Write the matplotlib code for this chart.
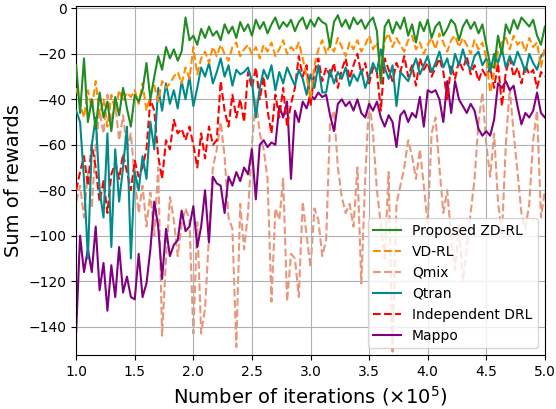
import numpy as np
import matplotlib
matplotlib.use("Agg")
import matplotlib.pyplot as plt

x_start, x_end, n_points = 1.0, 5.0, 121
iterations = np.linspace(x_start, x_end, n_points)

zd_rl = [-25, -46, -22, -50, -40, -53, -37, -48, -41, -54, -39, -47, -35, -44, -52, -38, -41, -36, -24, -40,
         -30, -21, -27, -17, -22, -18, -23, -19, -4, -14, -12, -16, -9, -13, -8, -12, -10, -14, -7, -11,
         -8, -13, -6, -10, -7, -12, -5, -9, -6, -11, -7, -4, -9, -6, -8, -5, -10, -6, -4, -9,
         -5, -8, -4, -6, -7, -17, -6, -3, -8, -5, -9, -4, -7, -5, -9, -6, -4, -10, -33, -8,
         -5, -11, -6, -9, -4, -12, -7, -15, -6, -10, -5, -13, -8, -6, -12, -9, -5, -7, -14, -8,
         -5, -9, -6, -11, -7, -16, -25, -26, -12, -20, -7, -11, -5, -9, -4, -6, -8, -5, -12, -16, -8]

vd_rl = [-35, -42, -48, -36, -44, -32, -47, -40, -52, -38, -45, -36, -41, -37, -39, -36, -42, -33, -45, -38,
         -34, -41, -32, -35, -33, -30, -28, -33, -26, -31, -17, -29, -22, -19, -24, -17, -21, -16, -20, -23,
         -17, -15, -21, -18, -16, -20, -17, -22, -16, -19, -15, -21, -18, -14, -20, -17, -19, -15, -22, -30,
         -40, -25, -18, -14, -20, -16, -19, -13, -17, -21, -15, -18, -14, -19, -16, -12, -18, -15, -27, -14,
         -11, -17, -13, -16, -19, -14, -12, -18, -15, -20, -16, -13, -18, -11, -15, -19, -14, -12, -17, -13,
         -16, -20, -14, -18, -15, -22, -37, -28, -19, -15, -13, -18, -12, -16, -14, -19, -13, -17, -15, -26, -17]

qmix = [-85, -78, -92, -72, -88, -60, -45, -55, -38, -50, -42, -58, -47, -62, -55, -75, -90, -78, -96, -81,
        -100, -70, -144, -110, -83, -93, -109, -95, -88, -93, -143, -94, -143, -132, -100, -70, -62, -50, -65, -92,
        -97, -149, -86, -106, -90, -60, -40, -55, -62, -75, -129, -88, -93, -75, -129, -108, -110, -127, -85, -100,
        -114, -88, -93, -109, -102, -50, -45, -70, -83, -90, -86, -96, -70, -121, -75, -40, -55, -80, -95, -110,
        -72, -151, -86, -78, -70, -58, -65, -75, -62, -78, -95, -55, -48, -70, -90, -80, -100, -115, -95, -120,
        -105, -90, -75, -50, -37, -60, -74, -55, -85, -100, -60, -35, -55, -72, -90, -97, -86, -58, -45, -92, -80]

qtran = [-45, -50, -75, -110, -60, -48, -80, -92, -55, -105, -62, -85, -70, -52, -110, -72, -80, -65, -75, -50,
         -62, -35, -45, -33, -42, -36, -44, -32, -40, -30, -43, -35, -26, -30, -24, -33, -28, -22, -30, -25,
         -34, -27, -29, -28, -26, -32, -48, -35, -27, -31, -25, -36, -28, -33, -26, -30, -34, -27, -31, -38,
         -29, -35, -25, -37, -37, -27, -33, -28, -31, -26, -34, -29, -32, -27, -35, -30, -24, -28, -18, -26,
         -31, -25, -43, -28, -30, -32, -27, -22, -29, -25, -21, -28, -24, -19, -26, -22, -29, -20, -25, -18,
         -24, -27, -21, -19, -25, -22, -28, -20, -24, -18, -26, -21, -25, -19, -23, -28, -20, -24, -27, -21, -19]

independent = [-80, -72, -65, -78, -60, -70, -85, -76, -90, -73, -68, -75, -64, -72, -80, -67, -74, -70, -62, -40,
               -45, -65, -75, -58, -62, -49, -55, -53, -58, -52, -60, -70, -55, -66, -52, -60, -58, -32, -45, -52,
               -38, -48, -40, -50, -28, -35, -26, -40, -30, -45, -55, -38, -48, -35, -52, -42, -35, -21, -30, -25,
               -43, -28, -22, -32, -26, -30, -24, -35, -27, -22, -31, -25, -20, -29, -24, -33, -26, -28, -45, -22,
               -27, -32, -24, -28, -21, -30, -25, -34, -22, -27, -24, -30, -26, -22, -28, -40, -25, -31, -23, -27,
               -21, -29, -25, -32, -27, -30, -26, -35, -24, -43, -28, -22, -30, -26, -33, -25, -29, -27, -35, -28, -30]

mappo = [-142, -100, -116, -106, -116, -96, -124, -112, -133, -113, -127, -105, -125, -118, -127, -128, -108, -127, -121, -106,
         -85, -96, -119, -97, -109, -104, -102, -89, -98, -96, -87, -105, -96, -80, -103, -74, -77, -78, -90, -74,
         -78, -72, -76, -70, -73, -62, -84, -60, -58, -61, -59, -60, -43, -48, -41, -75, -45, -50, -41, -44,
         -38, -40, -37, -39, -38, -47, -54, -42, -40, -43, -41, -45, -40, -46, -48, -42, -45, -41, -48, -52,
         -47, -50, -61, -47, -45, -50, -46, -48, -39, -52, -36, -37, -36, -40, -50, -32, -46, -32, -40, -43,
         -46, -42, -45, -53, -56, -54, -56, -49, -33, -35, -32, -36, -34, -43, -51, -46, -48, -45, -37, -46, -48]

series = [
    ("Proposed ZD-RL", zd_rl, "forestgreen", "-", 6),
    ("VD-RL", vd_rl, "darkorange", "--", 5),
    ("Qmix", qmix, "darksalmon", "--", 1),
    ("Qtran", qtran, "darkcyan", "-", 4),
    ("Independent DRL", independent, "red", "--", 3),
    ("Mappo", mappo, "purple", "-", 2),
]

fig = plt.figure(figsize=(5.56, 4.09), dpi=100)
ax = fig.add_axes([0.137, 0.132, 0.843, 0.853])

for label, vals, color, ls, z in series:
    ax.plot(iterations, vals, color=color, linestyle=ls, linewidth=1.5, label=label, zorder=z)

ax.set_xlim(1.0, 5.0)
ax.set_ylim(-152.5, 1)
ax.set_xticks(np.arange(1.0, 5.01, 0.5))
ax.set_yticks(np.arange(-140, 1, 20))
ax.grid(True, color="#b0b0b0", linewidth=0.8)
ax.tick_params(labelsize=10)
ax.set_xlabel(r"Number of iterations ($\times 10^5$)", fontsize=14)
ax.set_ylabel("Sum of rewards", fontsize=14)
leg = ax.legend(loc="lower right", fontsize=10)
leg.set_zorder(10)

fig.savefig("out.png", dpi=100)
